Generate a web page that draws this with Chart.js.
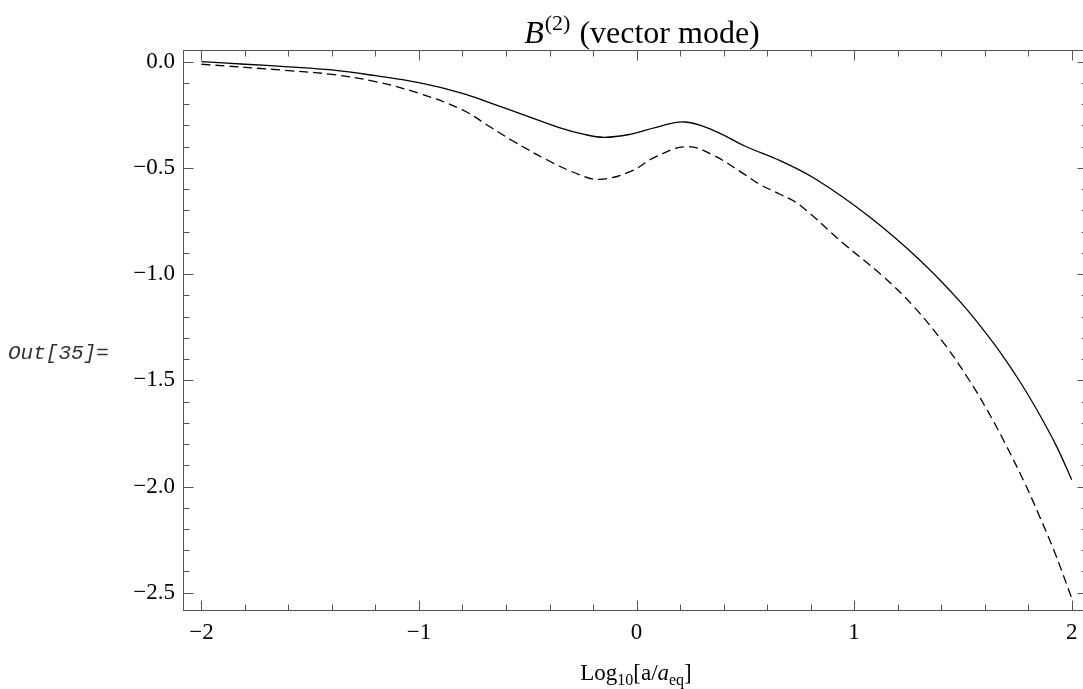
<!DOCTYPE html>
<html><head><meta charset="utf-8">
<script src="https://cdn.jsdelivr.net/npm/chart.js@4.4.1/dist/chart.umd.min.js"></script>
<style>html,body{margin:0;padding:0;background:#fff;overflow:hidden;} #wrap{width:1100px;height:689px;}</style>
</head><body><div id="wrap"><canvas id="c" width="1100" height="689"></canvas></div>
<script>
// ---- data ----
const xTicks = [-2, -1, 0, 1, 2];
const yTicks = [0, -0.5, -1, -1.5, -2, -2.5];
const solidX = [-2, -1.8, -1.6, -1.4, -1.2, -1.0, -0.8, -0.67, -0.5, -0.34, -0.25, -0.15, -0.03, 0.09, 0.22, 0.35, 0.5, 0.66, 0.83, 1.07, 1.3, 1.49, 1.64, 1.755, 1.845, 1.93, 2.0];
const solidY = [0.0, -0.012, -0.024, -0.039, -0.066, -0.099, -0.149, -0.195, -0.257, -0.315, -0.340, -0.356, -0.342, -0.309, -0.284, -0.322, -0.398, -0.466, -0.557, -0.730, -0.932, -1.133, -1.324, -1.495, -1.648, -1.810, -1.968];
const dashedX = [-2, -1.6, -1.4, -1.2, -1.0, -0.8, -0.67, -0.57, -0.41, -0.26, -0.17, -0.03, 0.09, 0.23, 0.35, 0.5, 0.57, 0.66, 0.75, 0.95, 1.13, 1.27, 1.42, 1.53, 1.61, 1.69, 1.78, 1.85, 1.92, 2.0];
const dashedY = [-0.012, -0.042, -0.06, -0.094, -0.149, -0.227, -0.309, -0.372, -0.463, -0.533, -0.554, -0.518, -0.447, -0.400, -0.439, -0.533, -0.58, -0.624, -0.675, -0.855, -1.008, -1.148, -1.336, -1.501, -1.637, -1.789, -1.975, -2.135, -2.305, -2.525];
const titleMain = "B", titleSup = "(2)", titleRest = " (vector mode)";
const outLabel = "Out[35]=";

const SERIF = '"Liberation Serif", "Times New Roman", Times, serif';
const fmt = v => (v < 0 ? "\u2212" : "") + Math.abs(v);

const framePlugin = {
  id: 'frame',
  afterDraw(chart) {
    const { ctx, chartArea: a, scales: { x, y } } = chart;
    ctx.save();
    ctx.strokeStyle = '#555';
    ctx.lineWidth = 1;
    const L = Math.round(a.left) + 0.5, R = Math.round(a.right) + 0.5, T = Math.round(a.top) + 0.5, B = Math.round(a.bottom) + 0.5;
    ctx.strokeRect(L, T, R - L, B - T);
    ctx.beginPath();
    for (let i = -10; i <= 10; i++) {
      const v = i * 0.2; const len = (i % 5 === 0) ? 10 : 6;
      const px = Math.round(x.getPixelForValue(v)) + 0.5;
      ctx.moveTo(px, B); ctx.lineTo(px, B - len);
      ctx.moveTo(px, T); ctx.lineTo(px, T + len);
    }
    for (let i = 0; i >= -25; i--) {
      const v = i * 0.1; const len = (i % 5 === 0) ? 10 : 6;
      const py = Math.round(y.getPixelForValue(v)) + 0.5;
      ctx.moveTo(L, py); ctx.lineTo(L + len, py);
      ctx.moveTo(R, py); ctx.lineTo(R - len, py);
    }
    ctx.stroke();

    // title
    ctx.fillStyle = '#000';
    ctx.textBaseline = 'alphabetic';
    ctx.textAlign = 'left';
    const fMain = 'italic 32px ' + SERIF, fSup = '22px ' + SERIF, fRest = '32px ' + SERIF;
    ctx.font = fMain; const w1 = ctx.measureText(titleMain).width;
    ctx.font = fSup; const w2 = ctx.measureText(titleSup).width;
    ctx.font = fRest; const w3 = ctx.measureText(titleRest).width;
    let tx = 642 - (w1 + w2 + 2 + w3) / 2; const tb = 43;
    ctx.font = fMain; ctx.fillText(titleMain, tx, tb); tx += w1 + 1;
    ctx.font = fSup; ctx.fillText(titleSup, tx, tb - 13); tx += w2 + 1;
    ctx.font = fRest; ctx.fillText(titleRest, tx, tb);

    // x axis label: Log10[a/a_eq]
    const parts = [
      ['Log', '23px ' + SERIF, 0],
      ['10', '16px ' + SERIF, 5],
      ['[a/', '23px ' + SERIF, 0],
      ['a', 'italic 23px ' + SERIF, 0],
      ['eq', '16px ' + SERIF, 5],
      [']', '23px ' + SERIF, 0]
    ];
    let tw = 0;
    parts.forEach(p => { ctx.font = p[1]; p.push(ctx.measureText(p[0]).width); tw += p[3]; });
    let lx = 636 - tw / 2; const lb = 680;
    parts.forEach(p => { ctx.font = p[1]; ctx.fillText(p[0], lx, lb + p[2]); lx += p[3]; });

    // Out label
    ctx.fillStyle = '#333';
    ctx.font = 'italic 21px "Liberation Mono", "DejaVu Sans Mono", monospace';
    ctx.textBaseline = 'middle';
    ctx.fillText(outLabel, 8, 353);
    ctx.restore();
  }
};

new Chart(document.getElementById('c'), {
  type: 'line',
  data: {
    datasets: [
      { data: solidX.map((v, i) => ({ x: v, y: solidY[i] })), borderColor: '#000', borderWidth: 1.3, pointRadius: 0, tension: 0.4, fill: false },
      { data: dashedX.map((v, i) => ({ x: v, y: dashedY[i] })), borderColor: '#000', borderWidth: 1.3, borderDash: [9, 5], pointRadius: 0, tension: 0.4, fill: false }
    ]
  },
  options: {
    responsive: false,
    animation: false,
    devicePixelRatio: 1,
    layout: { padding: { top: 50, right: 13, left: 0, bottom: 0 } },
    plugins: { legend: { display: false }, tooltip: { enabled: false }, title: { display: false } },
    scales: {
      x: {
        type: 'linear', min: -2.0846, max: 2.0704,
        grid: { display: false, drawTicks: false }, border: { display: false },
        afterBuildTicks: s => { s.ticks = xTicks.map(v => ({ value: v })); },
        afterFit: s => { s.height = 79.5; },
        ticks: { callback: v => fmt(v), color: '#000', font: { family: SERIF, size: 23 }, padding: 10, maxRotation: 0, autoSkip: false }
      },
      y: {
        type: 'linear', min: -2.579, max: 0.055,
        grid: { display: false, drawTicks: false }, border: { display: false },
        afterBuildTicks: s => { s.ticks = yTicks.map(v => ({ value: v })); },
        afterFit: s => { s.width = 183; },
        ticks: { callback: v => (v < 0 ? "\u2212" : "") + Math.abs(v).toFixed(1), color: '#000', font: { family: SERIF, size: 23 }, padding: 8, autoSkip: false }
      }
    }
  },
  plugins: [framePlugin]
});
</script>
</body></html>
